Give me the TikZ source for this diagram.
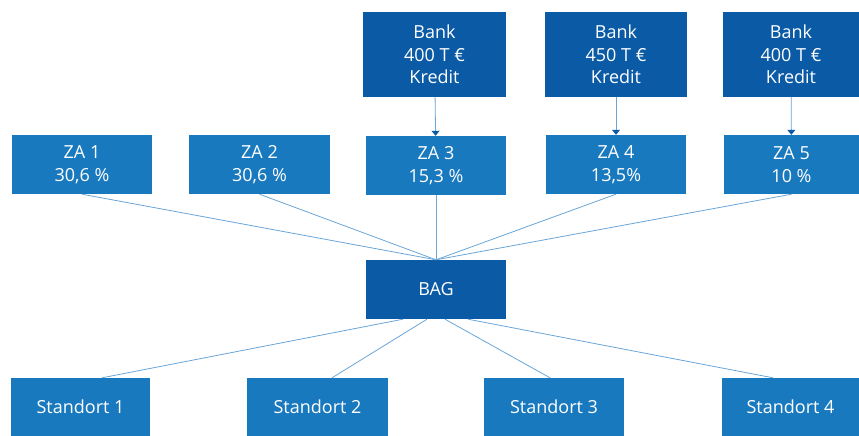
\documentclass[tikz,border=0pt]{standalone}
\usepackage{fontspec}
\setmainfont{Open Sans}
\usepackage{tikz}
\usetikzlibrary{calc}
\usetikzlibrary{arrows.meta}
\definecolor{darkblue}{RGB}{10,90,166}
\definecolor{lightblue}{RGB}{25,121,191}
\definecolor{linkblue}{RGB}{105,165,215}

\begin{document}
\begin{tikzpicture}[x=1pt, y=-1pt,
		box/.style={rectangle, fill=lightblue, text=white, align=center, inner sep=0pt,
			minimum width=140pt, minimum height=59pt, font=\fontsize{18}{22.5}\selectfont},
		darkbox/.style={box, fill=darkblue},
		link/.style={draw=linkblue, line width=0.8pt}]
				\useasboundingbox (0,0) rectangle (859,436);
				
				\node[darkbox, minimum width=143pt, minimum height=85pt] (bank1) at (434.5,54.5) {Bank\\400 T €\\Kredit};
				\node[darkbox, minimum width=142pt, minimum height=85pt] (bank2) at (616,54.5) {Bank\\450 T €\\Kredit};
				\node[darkbox, minimum width=136pt, minimum height=85pt] (bank3) at (791,54.5) {Bank\\400 T €\\Kredit};
				
				\node[box] (za1) at (82,164.5) {ZA 1\\30,6 \%};
				\node[box, minimum width=141pt] (za2) at (259.5,164.5) {ZA 2\\30,6 \%};
				\node[box] (za3) at (436,165.5) {ZA 3\\15,3 \%};
				\node[box] (za4) at (616,164.5) {ZA 4\\13,5\%};
				\node[box, minimum width=135pt] (za5) at (791.5,164.5) {ZA 5\\10 \%};
				
				\node[darkbox] (bag) at (436,289.5) {BAG};
				
				\node[box, minimum width=139pt, minimum height=58pt] (st1) at (80.5,407) {Standort 1};
				\node[box, minimum width=141pt, minimum height=58pt] (st2) at (317.5,407) {Standort 2};
				\node[box, minimum width=140pt, minimum height=58pt] (st3) at (554,407) {Standort 3};
				\node[box, minimum width=137pt, minimum height=58pt] (st4) at (790.5,407) {Standort 4};
				
				\draw[link, -{Triangle[width=8pt, length=5pt, color=darkblue]}] (bank1) -- (za3);
				\draw[link, -{Triangle[width=8pt, length=5pt, color=darkblue]}] (bank2) -- (za4);
				\draw[link, -{Triangle[width=8pt, length=5pt, color=darkblue]}] (bank3) -- (za5);
				
				\draw[link] (za1.south) -- (bag.north);
				\draw[link] (za2.south) -- (bag.north);
				\draw[link] (za3.south) -- (bag.north);
				\draw[link] (za4.south) -- (bag.north);
				\draw[link] (za5.south) -- (bag.north);
				
				\draw[link] ($(bag.south)+(-33,0)$) -- ($(st1.north)+(21.5,0)$);
				\draw[link] ($(bag.south)+(-9,0)$) -- ($(st2.north)+(14.5,0)$);
				\draw[link] ($(bag.south)+(9,0)$) -- ($(st3.north)+(-4,0)$);
				\draw[link] ($(bag.south)+(32,0)$) -- ($(st4.north)+(-17.5,0)$);
			\end{tikzpicture}
\end{document}
